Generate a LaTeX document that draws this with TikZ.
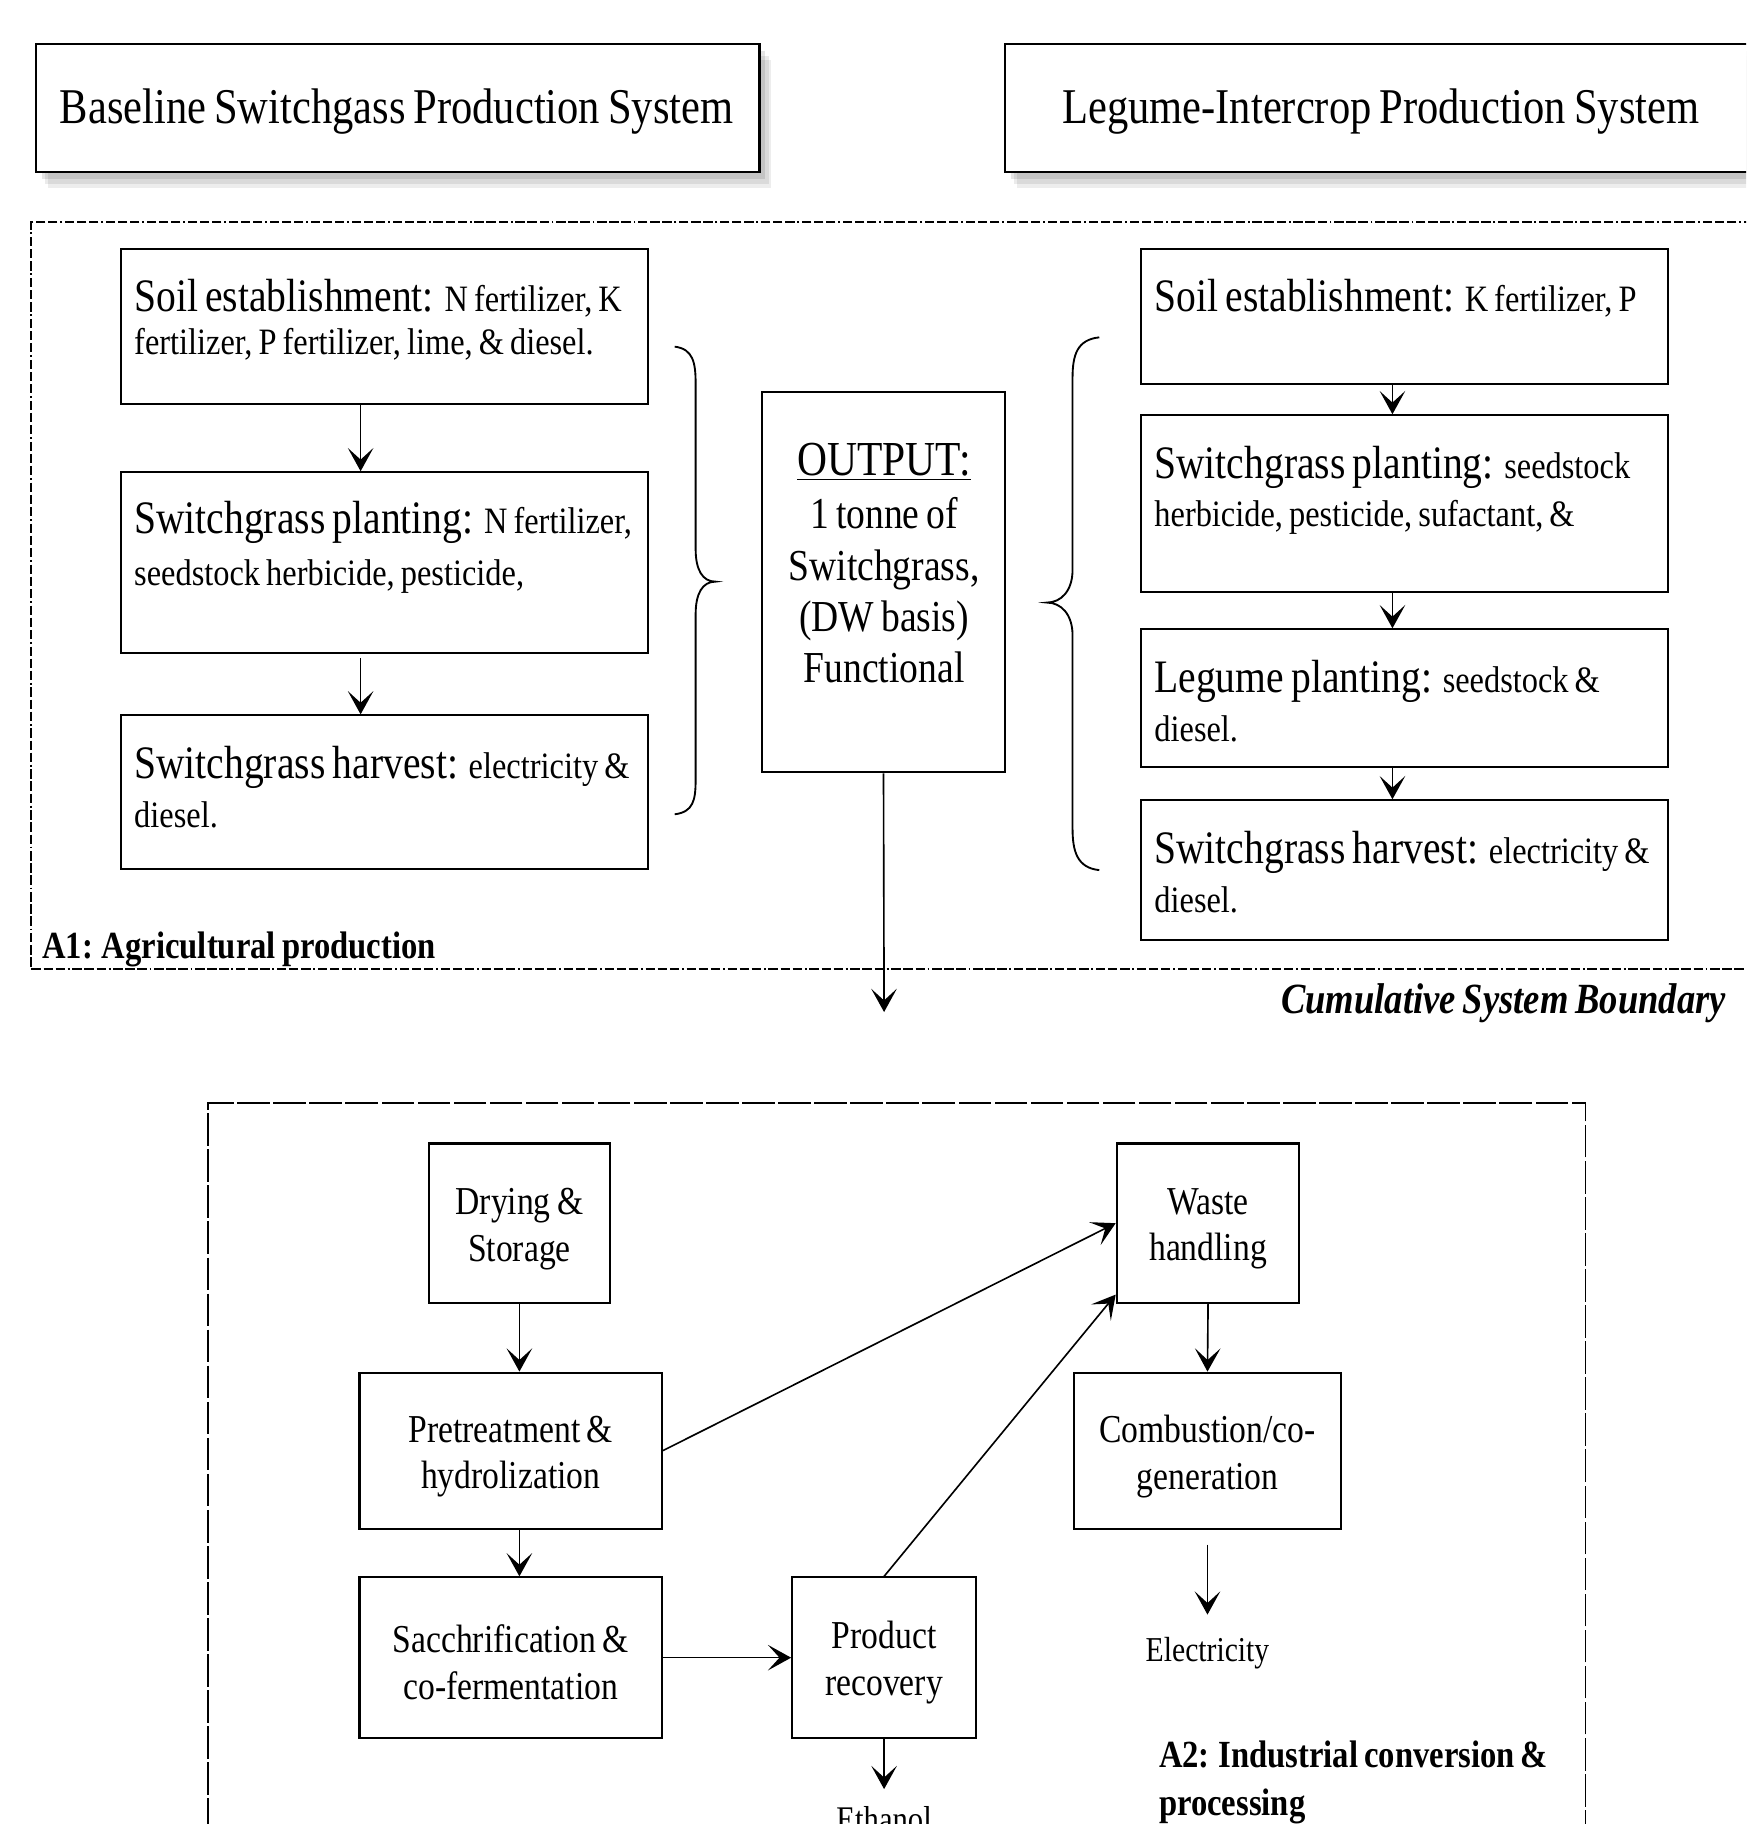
\documentclass[tikz,border=0pt]{standalone}
\usepackage{fontspec}
\setmainfont{Liberation Serif}[FakeStretch=0.85, WordSpace=0.75]
\newfontfamily\smfam{Liberation Serif}[FakeStretch=0.87, WordSpace=0.75]
\usetikzlibrary{arrows.meta,fit,calc,shadows}
\newcommand\bxf{\fontsize{20}{21}\selectfont}
\newcommand\smf{\smfam\fontsize{16}{21}\selectfont}
\begin{document}
\begin{tikzpicture}[x=0.5pt,y=-0.5pt,
  box/.style={draw, line width=0.9pt, inner sep=0pt},
  tbox/.style={box, line width=1.1pt, fill=white,
    drop shadow={shadow xshift=5pt, shadow yshift=-7pt, opacity=0.07, fill=black},
    drop shadow={shadow xshift=4pt, shadow yshift=-5pt, opacity=0.08, fill=black},
    drop shadow={shadow xshift=2.5pt, shadow yshift=-3pt, opacity=0.1, fill=black}},
  btxt/.style={inner sep=0pt, anchor=base west, align=flush left, text width=260pt, font=\bxf},
  ctxt/.style={inner sep=0pt, align=center, font=\fontsize{17}{20}\selectfont},
  arr/.style={-{Stealth[length=10pt,width=11pt,inset=5pt]}, line width=0.7pt},
  bnd1/.style={draw, line width=0.9pt, inner sep=0pt, dash pattern=on 4pt off 1.2pt on 4pt off 1.2pt on 4pt off 1.2pt on 0.8pt off 1.2pt},
  bnd2/.style={draw, line width=0.8pt, inner sep=0pt, dash pattern=on 14pt off 1.5pt},
  lab/.style={inner sep=0pt, anchor=base west, align=flush left, text width=220pt, font=\bfseries\fontsize{16.5}{21}\selectfont}
]
\useasboundingbox (0,0) rectangle (1501,1568);
\clip (0,0) rectangle (1501,1568);

% titles
\node[tbox, minimum width=311pt, minimum height=55pt] (t1) at (342,93) {};
\node[tbox, minimum width=323pt, minimum height=55pt] (t2) at (1187,93) {};
\node[inner sep=0pt, anchor=base, font=\fontsize{21.5}{24}\selectfont] (t1txt) at (341,106) {Baseline Switchgass Production System};
\node[inner sep=0pt, anchor=base, font=\fontsize{21.5}{24}\selectfont] (t2txt) at (1187,106) {Legume-Intercrop Production System};

% A1 boundary
\node[bnd1, fit={(27,191)(1530,833)}] (a1) {};

% left column
\node[box, fit={(104,214)(557,347)}] (L1) {};
\node[box, fit={(104,406)(557,561)}] (L2) {};
\node[box, fit={(104,615)(557,747)}] (L3) {};
\node[btxt] (L1t) at (115,268) {Soil establishment: {\smf N fertilizer, K}\\[-2.5pt]{\smf fertilizer, P fertilizer, lime, \& diesel.}};
\node[btxt] (L2t) at (115,459) {Switchgrass planting: {\smf N fertilizer,}\\[1pt]{\smf seedstock herbicide, pesticide,}};
\node[btxt] (L3t) at (115,669) {Switchgrass harvest: {\smf electricity \&}\\{\smf diesel.}};
\coordinate (lx) at (310,0);
\draw[arr] (L1.south -| lx) -- (L2.north -| lx);
\draw[arr] ($(L2.south -| lx)+(0,4)$) -- (L3.north -| lx);

% left brace
\draw[line width=0.8pt] (580,298) .. controls (596,300) and (598,312) .. (598,330) -- (598,472)
  .. controls (598,490) and (604,500) .. (615,500) .. controls (604,500) and (598,510) .. (598,528)
  -- (598,670) .. controls (598,688) and (596,698) .. (580,700);

% output
\node[box, fit={(655,337)(864,664)}] (O) {};
\node[align=center, font=\fontsize{19}{22}\selectfont, inner sep=0pt] (Ot) at (760,484)
  {{\fontsize{21}{23}\selectfont\underline{OUTPUT:}}\\[1pt]1 tonne of\\Switchgrass,\\(DW basis)\\Functional};
\coordinate (oend) at (760,870);
\draw[arr] (O.south) -- (oend);

% right brace
\draw[line width=0.8pt] (945,290) .. controls (926,292) and (922,305) .. (922,325) -- (922,490)
  .. controls (922,508) and (912,518) .. (900,518) .. controls (912,518) and (922,528) .. (922,546)
  -- (922,712) .. controls (922,732) and (926,746) .. (945,748);

% right column
\node[box, fit={(981,214)(1434,330)}] (R1) {};
\node[box, fit={(981,357)(1434,509)}] (R2) {};
\node[box, fit={(981,541)(1434,659)}] (R3) {};
\node[box, fit={(981,688)(1434,808)}] (R4) {};
\node[btxt] (R1t) at (992,268) {Soil establishment: {\smf K fertilizer, P}};
\node[btxt] (R2t) at (992,411) {Switchgrass planting: {\smf seedstock}\\{\smf herbicide, pesticide, sufactant, \&}};
\node[btxt] (R3t) at (992,595) {Legume planting: {\smf seedstock \&}\\{\smf diesel.}};
\node[btxt] (R4t) at (992,742) {Switchgrass harvest: {\smf electricity \&}\\{\smf diesel.}};
\coordinate (rx) at (1197,0);
\draw[arr] (R1.south -| rx) -- (R2.north -| rx);
\draw[arr] (R2.south -| rx) -- (R3.north -| rx);
\draw[arr] (R3.south -| rx) -- (R4.north -| rx);

% labels
\node[lab] (a1lab) at (36,824) {A1: Agricultural production};
\node[inner sep=0pt, anchor=base east, font=\bfseries\itshape\fontsize{18.5}{21}\selectfont] (csb) at (1484,871) {Cumulative System Boundary};

% A2 boundary
\node[bnd2, fit={(179,948)(1363,1640)}] (a2) {};

\node[box, minimum width=77.5pt, minimum height=68.5pt] (dry) at (446.5,1051.5) {};
\node[box, minimum width=130pt, minimum height=67pt] (pre) at (439,1247) {};
\node[box, minimum width=130pt, minimum height=69pt] (sac) at (439,1425) {};
\node[box, minimum width=79pt, minimum height=69pt] (prod) at (760,1425) {};
\node[box, minimum width=78.5pt, minimum height=68.5pt] (waste) at (1038.5,1051.5) {};
\node[box, minimum width=115pt, minimum height=67pt] (comb) at (1038,1247) {};
\node[ctxt] (dryt) at ($(dry)+(0,5)$) {Drying \&\\Storage};
\node[ctxt] (pret) at ($(pre)+(0,5)$) {Pretreatment \&\\hydrolization};
\node[ctxt] (sact) at ($(sac)+(0,4)$) {Sacchrification \&\\co-fermentation};
\node[ctxt] (prodt) at ($(prod)+(0,4)$) {Product\\recovery};
\node[ctxt] (wastet) at ($(waste)+(0,5)$) {Waste\\handling};
\node[ctxt] (combt) at ($(comb)+(0,5)$) {Combustion/co-\\generation};
\node[font=\fontsize{15}{18}\selectfont] (elec) at (1038,1421) {Electricity};
\node[anchor=base, inner sep=0pt, font=\fontsize{15.5}{18}\selectfont] (eth) at (760,1574) {Ethanol};
\node[lab] (a2lab) at (996,1519) {A2: Industrial conversion \&\\processing};

\draw[arr] (dry.south) -- (dry.south |- pre.north);
\draw[arr] (pre.south -| dry.south) -- (sac.north -| dry.south);
\draw[arr] (sac.east) -- (prod.west);
\draw[arr] (pre.east) -- (waste.west);
\draw[arr] (prod.north) -- ($(waste.south west)+(0,-8)$);
\draw[arr] (waste.south) -- (comb.north);
\coordinate (eend) at (1038,1388);
\draw[arr] ($(comb.south)+(0,13)$) -- (eend);
\coordinate (thend) at (760,1538);
\draw[arr] (prod.south) -- (thend);
\end{tikzpicture}
\end{document}
